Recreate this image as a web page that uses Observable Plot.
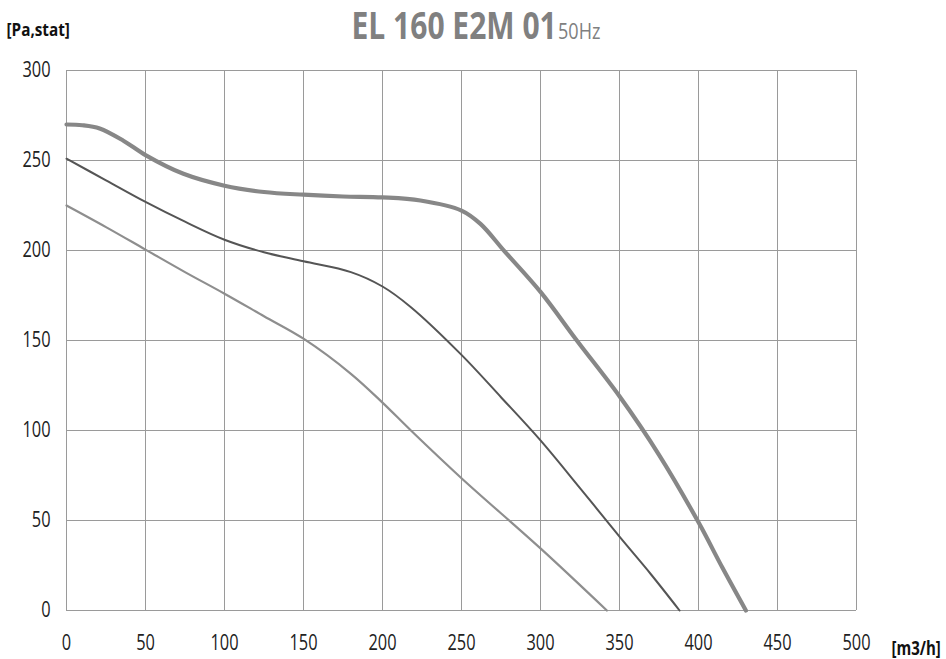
<!DOCTYPE html>
<html>
<head>
<meta charset="utf-8">
<script src="https://cdn.jsdelivr.net/npm/d3@7"></script>
<script src="https://cdn.jsdelivr.net/npm/@observablehq/plot@0.6"></script>
<style>
  html, body { margin: 0; padding: 0; background: #fff; }
  #wrap { width: 946px; height: 659px; overflow: hidden; font-family: "Open Sans", sans-serif; }
  #wrap svg { display: block; overflow: visible; }
</style>
</head>
<body>
<div id="wrap">
  <div id="head"></div>
  <div id="chart"></div>
</div>
<script>
const titleMain = "EL 160 E2M 01";
const titleSub = "50Hz";
const yLabel = "[Pa,stat]";
const xLabel = "[m3/h]";

const xTicks = [0, 50, 100, 150, 200, 250, 300, 350, 400, 450, 500];
const yTicks = [0, 50, 100, 150, 200, 250, 300];

const topFlow = [0, 10, 21, 36, 50, 74, 100, 125, 150, 175, 200, 224, 250, 262, 277, 300, 323, 350, 375, 400, 415, 430];
const topPress = [270, 269.6, 267.8, 261, 253, 242.6, 236, 232.5, 231, 230, 229.5, 227.8, 222.2, 214.8, 199.8, 177, 150, 119, 86.5, 49, 24, 0];

const midFlow = [0, 25, 50, 75, 100, 125, 150, 180, 200, 218, 250, 275, 300, 325, 350, 370, 388];
const midPress = [251, 239, 227, 216, 206, 199, 194, 188, 180, 168.5, 142, 118.5, 94.5, 68, 41, 20, 0];

const lowFlow = [0, 25, 50, 75, 100, 125, 150, 180, 200, 218, 250, 300, 342];
const lowPress = [225, 213, 200.5, 188, 176, 163.5, 151, 131.5, 115.5, 100, 73.5, 34.5, 0];

const toRows = (xs, ys) => xs.map((x, i) => ({x, y: ys[i]}));
const topRows = toRows(topFlow, topPress);
const midRows = toRows(midFlow, midPress);
const lowRows = toRows(lowFlow, lowPress);

// compress a text horizontally around its anchor (emulates a condensed face)
function condense(el, s) {
  const t = el.getAttribute("transform");
  if (t) {
    el.setAttribute("transform", t + ` scale(${s},1)`);
  } else {
    const x = +(el.getAttribute("x") || 0), y = +(el.getAttribute("y") || 0);
    el.setAttribute("x", 0); el.setAttribute("y", 0);
    el.setAttribute("transform", `translate(${x},${y}) scale(${s},1)`);
  }
}

// header (title + y unit)
const head = d3.select("#head").append("svg").attr("width", 946).attr("height", 55)
  .style("font-family", '"Open Sans", sans-serif');
head.append("text").text(yLabel).attr("text-anchor", "start")
  .attr("font-size", 18).attr("font-weight", "bold").attr("fill", "#111")
  .attr("transform", "translate(6.5,36) scale(0.85,1)");
head.append("text").text(titleMain).attr("text-anchor", "start")
  .attr("font-size", 38).attr("font-weight", "bold").attr("fill", "#808080")
  .attr("transform", "translate(351.5,38.5) scale(0.79,1)");
head.append("text").text(titleSub).attr("text-anchor", "start")
  .attr("font-size", 21).attr("fill", "#808080")
  .attr("transform", "translate(558,38.5) scale(0.86,1)");

const chart = Plot.plot({
  width: 946,
  height: 604,
  marginLeft: 66,
  marginRight: 90,
  marginTop: 15,
  marginBottom: 49,
  style: { fontFamily: '"Open Sans", sans-serif', fontSize: "21px", color: "#222", background: "#fff", overflow: "visible" },
  x: { domain: [0, 500], ticks: xTicks, tickSize: 0, tickPadding: 25, label: null },
  y: { domain: [0, 300], ticks: yTicks, tickSize: 0, tickPadding: 16, label: null },
  marks: [
    Plot.gridX(xTicks, { stroke: "#9a9a9a", strokeOpacity: 1, strokeWidth: 1 }),
    Plot.gridY(yTicks, { stroke: "#9a9a9a", strokeOpacity: 1, strokeWidth: 1 }),
    Plot.line(lowRows, { x: "x", y: "y", stroke: "#8e8e8e", strokeWidth: 2.2, curve: "catmull-rom" }),
    Plot.line(midRows, { x: "x", y: "y", stroke: "#555555", strokeWidth: 2, curve: "catmull-rom" }),
    Plot.line(topRows, { x: "x", y: "y", stroke: "#878787", strokeWidth: 4.2, curve: "catmull-rom" })
  ]
});
chart.querySelectorAll('g[aria-label$="tick label"] text').forEach(el => condense(el, 0.78));
d3.select(chart).append("text").text(xLabel)
  .attr("text-anchor", "start")
  .attr("font-size", 19).attr("font-weight", "bold").attr("fill", "#111")
  .attr("font-family", '"Open Sans", sans-serif')
  .attr("transform", "translate(891.5,600) scale(0.79,1)");
document.getElementById("chart").appendChild(chart);
</script>
</body>
</html>
